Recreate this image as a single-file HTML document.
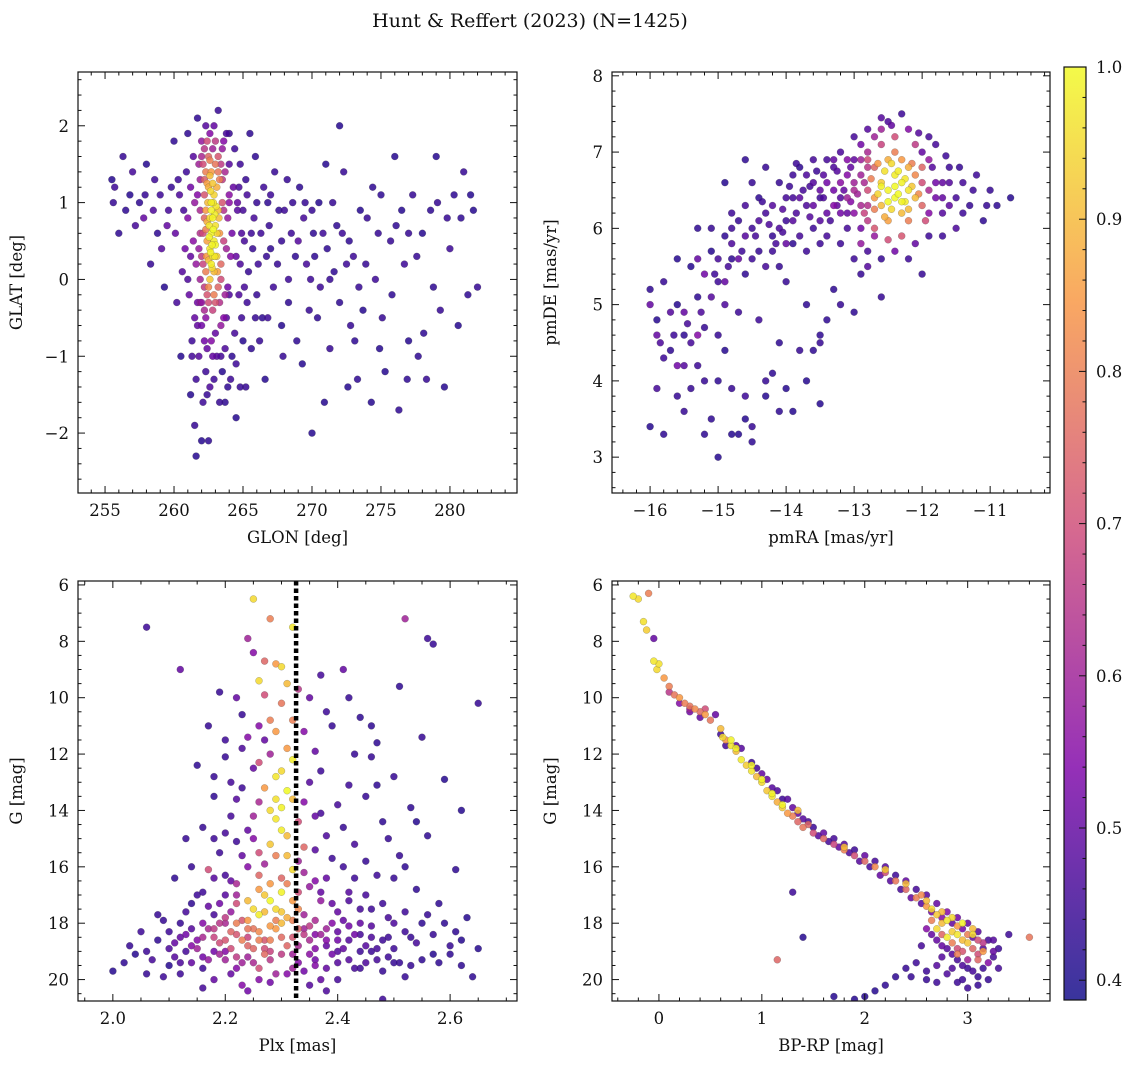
<!DOCTYPE html>
<html><head><meta charset="utf-8">
<style>
html,body{margin:0;padding:0;background:#fff;}
svg text{font-family:"DejaVu Serif","Liberation Serif",serif;fill:#111;}
</style></head>
<body>
<svg id="fig" width="1136" height="1067" viewBox="0 0 1136 1067" xmlns="http://www.w3.org/2000/svg">
<text x="530" y="27" font-size="19" text-anchor="middle">Hunt &amp; Reffert (2023) (N=1425)</text>
</svg>
<script>
// ---- data: [x, y, membership probability] ----
const glonGlat = [
[255.5,1.3,.42],[255.7,1.2,.45],[256,0.6,.43],[256.3,1.6,.44],[256.8,1.1,.42],[257,1.4,.46],[257.5,1.0,.43],[257.8,0.8,.5],[258,1.5,.42],[258.3,0.2,.44],[258.5,0.9,.47],[258.8,0.6,.43],[259,1.1,.45],[259.3,-0.1,.42],[259.5,0.7,.5],[259.8,1.2,.44],[260,1.8,.43],[260.2,-0.3,.46],[260.5,-1.0,.42],[260.8,0.4,.52],[261,1.9,.43],[261.2,-1.5,.42],[261.5,-1.9,.44],[261.6,-2.3,.42],[261.3,-0.8,.45],[261.7,2.1,.43],[262,-2.1,.42],[262.3,-1.2,.45],[262.5,-2.1,.43],[263.2,2.2,.44],[263.5,-1.2,.42],[263.8,-0.5,.48],[264,1.9,.44],[264.2,-1.0,.43],[264.5,0.3,.5],[264.8,1.5,.45],[265,-0.8,.42],[265.2,-1.4,.44],[265.5,1.9,.43],[265.8,0.8,.46],[266,-0.2,.44],[266.5,1.2,.45],[267,0.4,.43],[267.3,1.4,.44],[267.8,-0.6,.42],[268,0.9,.45],[268.3,-0.3,.43],[268.6,1.0,.44],[269,0.5,.48],[269.3,-1.1,.42],[269.6,0.2,.46],[270,-2.0,.42],[270,0.9,.44],[270.4,-0.5,.43],[270.8,0.6,.45],[271,1.5,.42],[271.3,-0.9,.44],[271.6,0.1,.43],[272,2.0,.42],[272.3,1.4,.44],[272.6,-1.4,.42],[273,0.3,.45],[273.3,-1.3,.43],[273.7,-0.4,.42],[274,0.8,.44],[274.3,-1.6,.42],[274.6,0.0,.45],[275,1.1,.43],[275.3,-1.2,.42],[275.7,0.5,.44],[276,1.6,.42],[276.3,-1.7,.43],[276.7,0.2,.45],[277,-0.8,.42],[277.3,1.1,.44],[277.7,-1.0,.43],[278,0.6,.42],[278.3,-1.3,.44],[278.6,0.9,.43],[279,1.6,.42],[279.3,-0.4,.44],[279.6,-1.4,.42],[280,0.4,.45],[280.3,1.1,.43],[280.6,-0.6,.42],[281,1.4,.44],[281.3,-0.2,.43],[281.7,0.9,.42],[282,-0.1,.44],[262.9,-1.3,.45],[263.9,-1.4,.43],[264.5,-1.8,.42],[266.2,-0.8,.44],[263,-0.7,.5],[262,-0.6,.52],
[264.3,1.2,.5],[264.6,0.9,.48],[265.1,0.5,.46],[265.4,0.1,.44],[266.3,0.6,.45],[266.8,1.0,.43],[267.5,0.2,.44],[268.8,0.3,.43],[269.9,0.0,.45],[270.5,1.0,.42],[271.8,0.7,.43],[272.5,0.2,.45],[273.5,0.9,.42],[274.8,0.6,.44],[275.8,-0.2,.43],[276.5,0.9,.42],[277.6,0.3,.44],[278.8,-0.1,.43],[264.0,-0.2,.47],[264.9,-0.5,.45],[265.6,-0.9,.43],[266.6,-1.3,.42],[267.9,-1.0,.44],[268.9,-0.8,.43],[270.9,-1.6,.42],[272.8,-0.6,.44],[274.9,-0.9,.42],[276.9,-1.3,.43],[279.8,0.8,.44],
[255.6,1.0,.44],[256.5,0.9,.43],[257.2,0.7,.46],[257.9,1.1,.44],[258.6,1.3,.45],[259.1,0.4,.48],[259.6,0.9,.46],[260.1,0.6,.5],[260.4,1.1,.47],[260.6,0.1,.48],[260.9,1.4,.45],[261.0,0.8,.55],[261.1,-0.2,.5],[261.2,1.2,.52],[261.4,0.5,.56],[261.5,-0.5,.5],[261.4,1.6,.48],[261.6,0.2,.58],[261.5,1.0,.58],[261.7,-0.3,.52],[261.3,-1.0,.46],[261.8,-1.0,.48],[261.6,-1.3,.45],[262.1,-1.6,.45],[262.4,-0.9,.5],[262.7,-0.8,.55],[262.6,-1.4,.47],[263.1,-1.0,.48],[263.3,-1.6,.44],[263.7,-0.9,.47],[264.1,-1.3,.45],[264.4,-0.7,.46],[263.9,-0.1,.52],[264.2,0.6,.52],[264.0,1.5,.48],[263.8,1.9,.46],[262.9,2.0,.5],[262.3,2.0,.48],[262.6,1.9,.55],[264.4,1.7,.45],[264.7,1.2,.46],[264.8,0.2,.47],[265.0,0.9,.46],[265.2,1.3,.44],[265.3,-0.3,.45],[265.7,0.4,.44],[265.9,1.6,.43],[266.1,0.2,.45],[266.4,-0.5,.43],[266.9,0.7,.44],[267.2,-0.1,.45],[267.6,0.9,.43],[268.2,1.3,.44],[268.5,0.6,.45],[269.1,1.2,.43],[269.4,0.8,.46],[269.8,-0.4,.44],[270.2,0.3,.43],[270.6,-0.1,.45],[271.1,0.4,.43],[271.5,1.0,.44],[272.0,-0.3,.43],[272.2,0.6,.45],[273.1,-0.8,.43],[273.9,0.2,.44],[274.4,1.2,.43],[275.1,-0.5,.44],[276.1,0.7,.43],[277.0,0.6,.44],[278.1,-0.7,.43],[279.1,1.0,.44],[280.8,0.8,.43],[281.5,1.1,.42],[263.4,0.0,.7],[263.6,0.9,.64],[263.5,1.3,.66],[263.8,0.4,.6],[264.0,1.0,.56],[261.9,0.6,.64],[261.8,1.5,.6],[261.9,-0.3,.58],[262.0,1.8,.58],[262.2,-0.4,.62],[263.0,-0.3,.72],[263.4,-0.6,.58],[263.6,1.8,.55],[262.0,0.3,.66],[262.2,0.8,.75],[262.2,1.7,.65],[263.2,1.6,.72],[262.4,1.8,.7],[263.0,1.8,.66],
[264.6,1.0,.5],[264.9,0.6,.47],[265.3,1.1,.46],[265.6,0.6,.45],[266.0,1.0,.44],[264.7,-0.2,.47],[265.1,-0.1,.46],[264.5,-1.1,.45],[263.4,-1.0,.46],[262.8,-1.0,.5],[262.2,-0.8,.52],[261.7,-0.6,.5],[261.2,0.3,.5],[261.0,0.0,.47],[260.7,0.9,.46],[260.3,1.3,.45],[266.7,0.3,.44],[267.0,1.1,.45],[267.8,0.5,.44],[268.3,0.0,.45],[269.5,1.0,.44],[270.1,0.6,.43],[271.3,0.0,.44],[272.7,0.5,.43],[273.4,-0.1,.44],[265.9,-0.5,.44],[266.8,-0.5,.45],[264.8,-1.4,.44],[263.7,-1.6,.43],[262.4,-1.5,.44]
,
[261.9,1.3,.6],[261.9,0.9,.62],[261.8,0.4,.58],[261.9,0.0,.6],[262.0,-0.3,.58],[262.1,1.5,.7],[262.2,1.1,.72],[262.1,0.6,.7],[262.1,0.2,.68],[262.2,-0.1,.66],[262.3,1.4,.8],[262.3,0.9,.85],[262.4,0.5,.86],[262.3,0.1,.8],[262.5,1.6,.75],[262.5,1.2,.88],[262.6,0.8,.95],[262.6,0.4,.97],[262.6,0.0,.92],[262.5,-0.3,.7],[262.7,1.0,.98],[262.7,0.6,.99],[262.8,0.3,.97],[262.7,1.4,.85],[262.8,0.8,.99],[262.9,1.1,.94],[262.9,0.5,.98],[262.9,0.1,.9],[263.0,1.5,.78],[263.0,0.7,.96],[263.1,1.2,.88],[263.1,0.3,.93],[263.2,0.9,.9],[263.2,-0.1,.75],[263.3,1.3,.8],[263.3,0.6,.85],[263.4,0.2,.76],[263.5,1.0,.72],[263.6,0.5,.68],[263.7,1.4,.62],[263.7,-0.2,.6],[263.9,0.8,.58],[262.4,-0.2,.72],[262.8,-0.4,.68],[263.3,-0.3,.64],[262.2,1.3,.74],[262.6,1.35,.9],[262.4,0.75,.88],[262.5,0.25,.9],[262.75,0.15,.95],[263.0,0.45,.99],[263.05,0.95,.97],[262.55,0.55,.99],[262.85,0.65,1.0],[262.65,0.35,.99],[262.95,0.85,.98],[262.7,0.9,.99],[263.4,1.5,.66],[262.0,1.6,.62],[261.7,1.1,.55],[264.1,0.3,.55],[264.0,1.1,.56],[262.3,-0.5,.56],[263.6,-0.5,.55],[262.8,1.7,.6],[263.5,1.7,.58],
[262.45,1.0,.9],[262.55,0.7,.97],[262.65,1.15,.95],[262.75,0.45,.99],[262.85,1.0,.97],[262.95,0.3,.97],[263.1,0.6,.94],[263.15,0.1,.86],[262.35,0.3,.85],[262.4,1.25,.86],[262.8,1.25,.92],[263.2,1.4,.78],[262.5,-0.1,.82],[262.9,-0.2,.8],[263.25,0.8,.9],[262.3,0.65,.8],[262.7,0.2,.98],[262.6,1.55,.8]
];
const pmraPmde = [
[-16,3.4,.42],[-15.8,3.3,.43],[-15.9,4.8,.42],[-15.8,5.3,.44],[-15.7,4.4,.43],[-15.6,5.0,.42],[-15.5,3.6,.44],[-15.5,4.6,.43],[-15.4,5.5,.42],[-15.3,4.2,.45],[-15.3,5.1,.43],[-15.2,4.7,.44],[-15.1,5.7,.42],[-15.1,3.5,.43],[-15.0,3.0,.42],[-15.0,5.3,.45],[-14.9,5.9,.43],[-14.9,4.4,.42],[-14.8,3.9,.44],[-14.8,5.6,.43],[-14.7,3.3,.42],[-14.7,6.1,.44],[-14.6,5.4,.43],[-14.6,3.5,.42],[-14.5,6.0,.45],[-14.5,3.2,.43],[-14.4,5.7,.44],[-14.4,6.4,.43],[-14.3,3.8,.42],[-14.3,6.2,.46],[-14.2,5.9,.44],[-14.2,4.1,.43],[-14.1,6.6,.44],[-14.0,6.1,.45],[-14.0,3.9,.42],[-13.9,6.4,.46],[-13.9,5.8,.43],[-13.8,4.4,.44],[-13.8,6.8,.43],[-13.7,6.3,.47],[-13.7,4.0,.42],[-13.6,6.0,.45],[-13.6,6.6,.48],[-13.5,4.6,.43],[-13.5,3.7,.42],[-13.4,6.9,.46],[-13.4,6.2,.5],[-13.3,5.2,.43],[-13.3,6.5,.52],[-13.2,7.0,.47],[-13.2,5.8,.45],[-13.1,6.7,.55],[-13.1,6.2,.5],[-13.0,4.9,.43],[-13.0,7.2,.46],[-12.9,5.4,.44],[-12.9,6.0,.52],[-12.8,7.3,.48],[-12.8,5.7,.46],[-11.9,5.9,.45],[-11.8,7.1,.46],[-11.7,6.2,.48],[-11.6,6.8,.45],[-11.5,6.0,.47],[-11.4,6.6,.46],[-11.3,6.3,.44],[-11.2,6.7,.45],[-11.1,6.1,.43],[-11.0,6.5,.44],[-10.9,6.3,.43],[-10.7,6.4,.42],[-12.3,7.5,.45],[-12.5,7.4,.47],[-12.2,5.6,.45],[-12.6,5.6,.44],[-14.6,6.9,.43],[-14.9,6.6,.42],[-15.3,6.0,.43],[-15.6,5.6,.42],[-16,5.2,.43],[-15.2,4.0,.44],[-14.1,4.5,.43],[-13.9,3.6,.42],[-12.6,5.1,.44],[-13.7,5.0,.43],[-14.4,4.8,.45],[-14.0,5.3,.44],
[-15.9,4.6,.5],[-15.8,4.3,.45],[-15.7,4.9,.48],[-15.6,4.2,.52],[-15.5,4.9,.5],[-15.5,4.2,.48],[-15.4,4.5,.46],[-15.4,3.9,.44],[-15.3,4.6,.55],[-15.3,5.6,.5],[-15.2,5.4,.52],[-15.1,5.1,.48],[-15.0,5.6,.46],[-14.9,5.3,.5],[-14.8,5.8,.47],[-14.8,6.0,.45],[-14.7,5.6,.5],[-14.6,6.3,.46],[-14.6,5.9,.48],[-14.5,5.6,.45],[-14.5,6.6,.44],[-14.4,6.1,.47],[-14.3,5.5,.46],[-14.3,6.8,.44],[-14.2,6.3,.48],[-14.2,5.7,.45],[-14.1,6.0,.47],[-14.1,5.5,.44],[-14.0,6.4,.46],[-14.0,5.8,.5],[-13.9,6.1,.48],[-13.9,6.7,.45],[-13.8,5.9,.46],[-13.8,6.4,.49],[-13.7,6.7,.47],[-13.7,5.7,.45],[-13.6,6.3,.5],[-13.6,6.9,.46],[-13.5,6.1,.48],[-13.5,6.5,.5],[-13.5,5.8,.45],[-13.4,6.6,.52],[-13.4,5.9,.46],[-13.3,6.3,.55],[-13.3,6.9,.5],[-13.2,6.6,.56],[-13.2,6.2,.52],[-13.1,6.4,.6],[-13.1,6.9,.55],[-13.0,6.2,.56],[-13.0,6.5,.62],[-12.9,6.7,.6],[-12.9,7.1,.52],[-12.8,6.3,.64],[-12.8,6.8,.65],[-12.7,7.2,.6],[-12.7,5.9,.58],[-12.2,7.3,.55],[-12.0,7.0,.5],[-11.9,6.2,.55],[-11.8,6.6,.52],[-11.7,6.4,.5],[-11.6,6.6,.48],[-11.5,6.4,.46],[-11.4,6.2,.45],[-11.9,7.2,.46],[-11.7,5.9,.45],[-12.1,5.8,.5],[-12.4,5.7,.52],[-12.8,5.5,.48],[-13.0,5.6,.45],[-12.6,7.45,.48],[-12.0,5.4,.44],[-14.8,6.2,.45],[-15.1,6.0,.44],[-14.9,5.0,.47],[-14.7,4.9,.45],[-15.0,4.6,.44],[-15.9,3.9,.46],[-15.6,3.8,.44],[-15.0,4.0,.43],[-14.6,3.8,.45],[-14.3,4.0,.44],[-13.6,4.4,.43],[-13.5,4.5,.44],[-13.4,4.8,.43],[-13.2,5.0,.44],[-14.1,3.6,.43],[-14.5,3.4,.44],[-14.8,3.3,.42],[-15.2,3.3,.43],[-16.0,5.0,.5],
[-14.35,6.35,.45],[-14.25,6.05,.47],[-14.15,5.8,.46],[-14.05,6.25,.48],[-13.95,6.55,.45],[-13.85,6.2,.47],[-13.75,6.5,.46],[-13.65,6.15,.48],[-13.55,6.75,.45],[-13.45,6.4,.47],[-13.35,6.1,.46],[-13.25,6.75,.48],[-13.15,6.5,.5],[-13.05,6.35,.55],[-13.05,6.8,.5],[-12.95,6.45,.6],[-12.85,6.6,.62],[-13.25,6.3,.5],[-13.45,6.7,.48],[-13.65,6.55,.46],[-13.85,6.85,.45],[-14.05,5.95,.46],[-14.45,5.9,.46],[-14.65,5.7,.45],[-14.85,5.5,.46],[-15.05,5.4,.45],[-15.25,4.9,.47],[-15.45,4.75,.46],[-15.65,4.6,.45],[-15.85,4.5,.47],[-11.85,6.8,.48],[-11.65,6.95,.45],[-11.45,6.8,.44],[-11.25,6.5,.45],[-11.05,6.3,.44],[-12.05,7.25,.48],[-12.45,7.35,.5],
[-13.0,6.6,.6],[-12.9,6.3,.62],[-12.9,6.9,.6],[-12.8,6.5,.7],[-12.8,6.1,.66],[-12.7,6.8,.75],[-12.7,6.4,.85],[-12.7,6.0,.72],[-12.6,7.1,.68],[-12.6,6.6,.93],[-12.6,6.3,.9],[-12.5,6.9,.88],[-12.5,6.5,.99],[-12.5,6.1,.86],[-12.4,6.7,.98],[-12.4,6.4,1.0],[-12.4,7.0,.8],[-12.3,6.6,.99],[-12.3,6.2,.9],[-12.3,6.9,.85],[-12.2,6.5,.97],[-12.2,6.8,.88],[-12.2,6.1,.8],[-12.1,6.4,.9],[-12.1,6.7,.82],[-12.0,6.3,.75],[-12.0,6.6,.7],[-11.9,6.5,.62],[-12.55,6.75,.96],[-12.45,6.25,.95],[-12.35,6.45,1.0],[-12.65,6.45,.94],[-12.25,6.35,.98],[-12.15,6.55,.92],[-12.5,5.85,.7],[-12.3,5.9,.72],[-12.8,7.0,.62],[-12.1,7.1,.66],[-12.6,7.3,.6],[-11.9,6.9,.58],[-12.9,5.8,.58],[-12.4,7.2,.7],
[-12.75,6.65,.8],[-12.65,6.85,.85],[-12.55,6.15,.88],[-12.45,6.85,.95],[-12.35,6.75,.98],[-12.25,6.65,.97],[-12.15,6.85,.8],[-12.05,6.45,.82],[-12.6,6.55,.99],[-12.5,6.35,1.0],[-12.4,6.55,1.0],[-12.3,6.35,.99],[-12.2,6.25,.9],[-12.7,6.25,.8],[-12.8,6.9,.7],[-11.95,6.1,.7],[-12.0,6.8,.75],[-12.85,6.2,.68],
[-13.2,6.4,.48],[-13.1,6.0,.46],[-13.3,6.8,.47],[-13.5,6.4,.45],[-13.0,6.9,.5],[-11.8,6.4,.52],[-11.7,6.6,.5],[-11.6,6.3,.49]
];
const plxG = [
[2.0,19.7,.42],[2.02,19.4,.43],[2.04,19.1,.42],[2.06,7.5,.45],[2.06,19.8,.44],[2.08,18.6,.43],[2.1,18.3,.45],[2.1,19.5,.42],[2.12,9.0,.5],[2.12,18.0,.44],[2.13,19.0,.46],[2.14,17.3,.43],[2.15,18.6,.55],[2.16,14.6,.44],[2.16,19.6,.45],[2.17,16.1,.7],[2.17,18.2,.62],[2.18,13.5,.43],[2.18,17.7,.46],[2.19,15.5,.45],[2.19,19.1,.6],[2.2,12.1,.44],[2.2,18.6,.72],[2.2,17.0,.48],[2.21,14.2,.46],[2.21,19.8,.5],[2.22,16.6,.62],[2.22,18.0,.8],[2.23,13.2,.45],[2.23,10.6,.44],[2.23,20.2,.55],[2.24,7.9,.6],[2.24,17.2,.9],[2.24,18.5,.68],[2.25,6.5,.95],[2.25,15.0,.55],[2.25,12.5,.5],[2.25,19.4,.62],[2.26,9.4,.95],[2.26,16.3,.75],[2.26,17.7,.98],[2.26,13.7,.62],[2.27,8.7,.75],[2.27,18.9,.7],[2.27,11.5,.5],[2.28,14.0,.95],[2.28,17.2,1.0],[2.28,7.2,.8],[2.28,20.1,.52],[2.29,15.6,.8],[2.29,12.8,.97],[2.29,18.2,.85],[2.3,10.2,.78],[2.3,16.9,.99],[2.3,14.7,.98],[2.3,8.9,.95],[2.31,13.3,1.0],[2.31,18.8,.75],[2.31,11.8,.85],[2.32,16.1,.95],[2.32,7.5,.97],[2.32,12.2,.98],[2.32,19.6,.6],[2.33,9.7,.65],[2.33,17.5,.82],[2.33,14.4,.7],[2.34,15.3,.75],[2.34,18.4,.66],[2.34,11.2,.55],[2.35,10.0,.5],[2.35,13.0,.48],[2.35,19.1,.56],[2.36,16.5,.55],[2.36,17.9,.62],[2.37,12.6,.45],[2.37,20.0,.5],[2.38,14.9,.47],[2.38,18.6,.55],[2.39,11.0,.44],[2.39,17.3,.5],[2.4,13.8,.46],[2.4,19.4,.48],[2.41,16.0,.45],[2.41,9.0,.5],[2.42,18.1,.52],[2.43,12.0,.44],[2.43,15.2,.46],[2.44,19.0,.45],[2.44,10.7,.43],[2.45,17.0,.46],[2.45,13.5,.44],[2.46,18.5,.47],[2.47,11.6,.43],[2.47,16.3,.45],[2.48,19.7,.44],[2.48,14.4,.43],[2.49,17.8,.46],[2.5,12.8,.44],[2.5,18.9,.45],[2.51,9.6,.43],[2.51,15.6,.44],[2.52,7.2,.6],[2.52,18.3,.45],[2.53,13.9,.43],[2.53,19.5,.44],[2.54,16.8,.43],[2.55,11.4,.44],[2.55,18.0,.43],[2.56,7.9,.45],[2.56,14.9,.43],[2.57,19.1,.42],[2.57,8.1,.44],[2.58,17.3,.43],[2.59,12.9,.42],[2.6,18.8,.44],[2.61,16.1,.43],[2.62,14.0,.42],[2.62,19.5,.43],[2.63,17.8,.42],[2.64,19.9,.43],[2.65,10.2,.44],[2.65,18.9,.42],
[2.08,17.7,.44],[2.11,16.4,.43],[2.13,15.0,.44],[2.14,18.2,.48],[2.15,12.4,.43],[2.17,11.0,.44],[2.18,19.0,.52],[2.19,9.8,.44],[2.2,16.3,.46],[2.21,17.6,.58],[2.22,15.1,.45],[2.22,19.2,.66],[2.23,11.8,.47],[2.23,17.9,.72],[2.24,14.7,.5],[2.24,20.4,.52],[2.25,18.2,.78],[2.26,11.0,.55],[2.26,19.6,.7],[2.27,15.9,.6],[2.27,17.0,.92],[2.28,12.0,.6],[2.28,18.6,.8],[2.29,19.8,.6],[2.29,13.6,.96],[2.3,18.0,.9],[2.31,17.8,.88],[2.31,15.6,.9],[2.32,18.5,.72],[2.33,16.9,.7],[2.34,19.7,.52],[2.35,18.1,.66],[2.36,14.2,.5],[2.36,19.5,.55],[2.37,17.2,.58],[2.38,18.2,.6],[2.39,19.1,.52],[2.4,17.6,.5],[2.41,18.9,.5],[2.42,16.9,.48],[2.43,19.6,.46],[2.44,18.0,.5],[2.45,18.8,.48],[2.46,17.5,.45],[2.47,19.3,.46],[2.49,18.5,.45],[2.5,16.4,.44],[2.52,19.9,.44],[2.54,18.7,.46],[2.56,17.7,.44],[2.58,19.4,.43],[2.61,18.3,.43],[2.12,19.8,.45],[2.16,20.3,.46],[2.19,18.0,.65],[2.21,18.9,.7],[2.24,18.8,.75],[2.27,19.1,.76],[2.29,17.5,.95],[2.33,18.2,.75],[2.35,16.7,.58],[2.38,20.4,.47],[2.48,20.7,.45],[2.42,13.1,.45],[2.46,12.1,.44],[2.38,10.5,.45],[2.21,13.0,.46],
[2.03,18.8,.44],[2.05,18.3,.45],[2.07,19.3,.46],[2.09,17.9,.44],[2.09,19.9,.45],[2.11,18.7,.5],[2.11,19.2,.48],[2.13,18.4,.52],[2.13,17.6,.46],[2.14,19.4,.5],[2.15,17.0,.45],[2.15,18.9,.6],[2.16,18.0,.55],[2.17,19.3,.58],[2.17,17.4,.5],[2.18,18.5,.68],[2.18,20.0,.5],[2.19,17.3,.52],[2.19,18.7,.7],[2.2,19.3,.6],[2.2,17.8,.66],[2.21,18.3,.75],[2.21,16.5,.5],[2.22,19.6,.55],[2.22,17.3,.7],[2.23,18.6,.8],[2.23,19.4,.6],[2.24,16.0,.55],[2.24,17.9,.85],[2.25,17.5,.95],[2.25,18.9,.75],[2.26,18.3,.82],[2.26,20.0,.55],[2.27,17.6,.9],[2.27,18.6,.72],[2.28,16.6,.85],[2.28,19.3,.65],[2.29,17.9,.8],[2.3,19.1,.66],[2.3,18.5,.76],[2.31,16.6,.8],[2.31,19.8,.55],[2.32,17.2,.85],[2.33,18.8,.62],[2.33,19.4,.55],[2.34,17.7,.6],[2.35,18.6,.62],[2.35,20.2,.48],[2.36,18.9,.55],[2.37,18.4,.6],[2.37,16.9,.5],[2.38,19.6,.5],[2.39,18.0,.55],[2.4,18.6,.52],[2.4,20.0,.46],[2.41,17.9,.5],[2.42,19.3,.48],[2.43,18.4,.52],[2.44,17.5,.46],[2.45,19.4,.47],[2.46,18.1,.48],[2.47,18.9,.46],[2.48,17.3,.45],[2.49,19.2,.45],[2.5,18.0,.47],[2.51,19.4,.44],[2.52,17.6,.45],[2.53,18.5,.44],[2.55,19.3,.43],[2.57,18.4,.44],[2.59,18.0,.43],[2.6,19.1,.43],[2.62,18.6,.42],[2.14,16.0,.44],[2.16,16.9,.45],[2.18,15.0,.45],[2.2,14.8,.46],[2.22,13.6,.48],[2.23,15.6,.5],[2.25,14.2,.6],[2.26,15.5,.7],[2.27,13.2,.85],[2.28,15.2,.92],[2.29,14.3,.97],[2.3,13.9,.99],[2.31,14.9,.9],[2.32,13.6,.9],[2.33,15.8,.6],[2.34,13.7,.55],[2.36,15.4,.48],[2.37,14.1,.46],[2.39,15.7,.45],[2.41,14.6,.44],[2.43,16.4,.45],[2.45,15.8,.44],[2.47,13.1,.43],[2.49,15.0,.44],[2.52,16.0,.43],[2.54,14.4,.42],[2.3,12.6,.95],[2.29,11.2,.85],[2.28,10.8,.8],[2.27,9.9,.7],[2.32,10.8,.8],[2.31,9.5,.9],[2.29,8.8,.85],[2.26,12.3,.7],[2.24,11.4,.55],[2.22,10.0,.5],[2.25,8.4,.55],[2.36,11.9,.5],[2.37,9.2,.46],[2.42,10.0,.44],[2.46,11.0,.43],[2.2,11.5,.45],[2.18,12.8,.44],
[2.1,18.9,.47],[2.12,18.5,.5],[2.14,18.8,.55],[2.16,18.5,.62],[2.18,18.2,.66],[2.2,18.0,.62],[2.22,18.4,.72],[2.24,18.2,.78],[2.26,18.6,.8],[2.28,18.1,.85],[2.3,17.6,.92],[2.32,17.9,.8],[2.34,18.2,.6],[2.36,18.4,.55],[2.38,18.8,.5],[2.4,18.3,.5],[2.42,18.6,.48],[2.44,18.4,.46],[2.46,19.0,.45],[2.48,18.6,.45],[2.5,19.4,.44],[2.2,19.0,.55],[2.24,19.2,.6],[2.28,19.0,.68],[2.32,19.1,.6],[2.36,19.3,.52],[2.4,19.0,.48],[2.44,19.6,.45],[2.16,19.2,.52],[2.12,19.4,.47],[2.06,19.0,.45],[2.3,16.4,.75],[2.26,16.8,.85],[2.22,17.0,.6],[2.34,16.2,.6],[2.38,16.4,.5],[2.42,17.2,.47],[2.18,16.4,.48]
];
const bprpG = [
[-0.25,6.4,.97],[-0.2,6.5,.95],[-0.15,7.3,.96],[-0.12,7.6,.93],[-0.1,6.3,.8],[-0.05,7.9,.5],[-0.05,8.7,.97],[-0.02,9.0,.95],[0.0,8.8,.96],[0.05,9.3,.85],[0.1,9.6,.8],[0.15,9.9,.78],[0.2,10.0,.85],[0.25,10.2,.8],[0.3,10.3,.78],[0.35,10.4,.82],[0.4,10.5,.76],[0.45,10.6,.85],[0.5,10.8,.78],[0.55,10.6,.5],[0.6,11.1,.9],[0.62,11.4,.95],[0.65,11.5,.85],[0.7,11.7,.97],[0.75,11.9,.9],[0.8,12.2,.98],[0.85,12.4,.93],[0.9,12.6,.97],[0.95,12.8,.9],[1.0,13.0,.95],[1.05,13.3,.92],[1.1,13.5,.97],[1.15,13.7,.88],[1.2,13.9,.93],[1.25,14.1,.85],[1.3,14.2,.8],[1.35,14.4,.75],[1.4,14.6,.78],[1.5,14.8,.7],[1.6,15.0,.75],[1.7,15.2,.68],[1.8,15.4,.8],[1.9,15.6,.7],[2.0,15.8,.75],[2.1,16.0,.82],[2.2,16.2,.7],[2.3,16.5,.78],[2.4,16.8,.75],[2.5,17.1,.8],[2.6,17.4,.85],[2.7,17.7,.92],[2.75,18.0,.9],[2.8,17.9,.97],[2.85,18.3,.93],[2.9,18.1,.85],[2.95,18.6,.9],[3.0,18.4,.8],[3.05,18.9,.75],[3.1,19.1,.7],[3.15,18.7,.65],[3.2,19.4,.55],[3.25,19.0,.5],
[0.6,11.3,.45],[0.75,11.7,.48],[0.9,12.3,.45],[1.0,12.7,.5],[1.1,13.2,.48],[1.2,13.6,.45],[1.3,13.9,.5],[1.3,16.9,.45],[1.4,14.3,.48],[1.5,14.6,.45],[1.6,14.8,.5],[1.7,15.0,.46],[1.8,15.2,.48],[1.9,15.4,.45],[2.0,15.6,.5],[2.1,15.8,.46],[2.2,16.0,.48],[2.3,16.3,.45],[2.4,16.5,.5],[2.5,16.8,.46],[2.6,17.0,.48],[2.7,17.3,.5],[2.8,17.6,.55],[2.9,17.8,.52],[3.0,18.0,.5],[3.1,18.3,.48],[3.2,18.6,.46],[3.3,18.9,.45],[2.6,18.2,.55],[2.7,18.6,.5],[2.8,18.9,.48],[2.9,19.3,.46],[3.0,19.6,.45],[3.1,19.9,.44],[2.8,19.8,.47],[2.9,20.1,.45],[3.2,20.0,.44],[2.7,19.5,.48],[2.5,19.4,.45],[2.4,19.6,.44],[2.3,19.9,.43],[2.2,20.2,.43],[2.1,20.4,.42],[2.0,20.6,.42],[1.9,20.7,.42],[2.6,20.0,.44],[3.3,19.6,.46],[3.4,18.4,.45],[1.4,18.5,.42],[3.0,20.3,.45],[1.7,20.6,.42],
[0.65,11.7,.46],[0.8,11.8,.48],[0.95,12.5,.46],[1.05,12.9,.5],[1.15,13.3,.47],[1.25,13.6,.48],[1.35,14.1,.5],[1.45,14.4,.46],[1.55,14.9,.48],[1.65,15.1,.46],[1.75,15.3,.5],[1.85,15.5,.47],[1.95,15.8,.48],[2.05,16.0,.46],[2.15,16.3,.5],[2.25,16.5,.48],[2.35,16.8,.46],[2.45,17.1,.5],[2.55,17.3,.48],[2.65,17.6,.52],[2.75,17.8,.55],[2.85,18.0,.5],[2.95,18.2,.52],[3.05,18.5,.5],[3.15,18.9,.48],[3.25,19.2,.46],[2.65,18.4,.5],[2.75,18.8,.5],[2.85,19.1,.48],[2.95,19.5,.47],[3.05,19.7,.46],[2.75,19.2,.48],[2.85,19.6,.47],[3.15,19.6,.45],[3.25,18.6,.48],[2.55,18.8,.46],[2.45,19.9,.44],[2.6,19.7,.45],[2.95,20.0,.45],[3.1,20.2,.44],[2.7,20.1,.45],[0.4,10.7,.5],[0.3,10.5,.52],[0.2,10.2,.55],
[1.15,19.3,.75],[3.6,18.5,.78],[2.75,18.4,.75],[2.85,18.7,.8],[2.95,19.0,.72],[3.05,18.2,.9],[2.65,17.9,.8],[2.9,18.9,.7],[3.0,19.3,.6],[3.1,18.6,.7],[0.1,9.8,.65],[0.3,10.4,.6],[0.45,10.4,.7],[1.35,14.0,.9],[1.45,14.5,.75],
[2.7,18.2,.95],[2.8,18.5,.98],[2.9,18.4,.97],[3.0,18.7,.92],[2.85,17.8,.95],[2.95,18.0,.99],[3.05,18.4,.95],[2.75,17.6,.9],[2.6,17.2,.9],[2.65,17.5,.95],[2.55,17.0,.82],[2.4,16.6,.9],[2.2,16.1,.92],[1.8,15.3,.9],[1.2,13.8,.99],[1.0,12.9,.99],[0.9,12.4,.99],[0.7,11.5,.99],[0.75,11.8,.99],[1.1,13.4,.99],[3.15,19.0,.85],[2.9,19.1,.8],[3.1,19.3,.75]
];
const cbTicks = [0.4,0.5,0.6,0.7,0.8,0.9,1.0];

const svg = document.getElementById('fig');
const NS = 'http://www.w3.org/2000/svg';
function mk(tag, attrs, parent){const e=document.createElementNS(NS,tag);for(const k in attrs)e.setAttribute(k,attrs[k]);(parent||svg).appendChild(e);return e;}
const PMIN=0.387, PMAX=1.0;
const stops=[[0,[13,8,135]],[0.25,[126,3,168]],[0.5,[204,71,120]],[0.75,[248,149,64]],[1,[240,249,33]]];
function plasma(t){t=Math.max(0,Math.min(1,t));for(let i=1;i<stops.length;i++){if(t<=stops[i][0]){const a=stops[i-1],b=stops[i];const f=(t-a[0])/(b[0]-a[0]);const c=a[1].map((v,j)=>Math.round(v+(b[1][j]-v)*f));return `rgb(${c.join(',')})`;}}return 'rgb(240,249,33)';}
function col(p){return plasma((p-PMIN)/(PMAX-PMIN));}
function fmt(v){const s=(Math.abs(v)<1e-9?0:v);return (s<0?'\u2212':'')+(+Math.abs(s).toFixed(2)).toString();}

function panel(cfg){
  const {name,L,T,R,B,x0,x1,y0,y1,xMaj,xMin,yMaj,yMin,xLabel,yLabel,data,xDec}=cfg;
  const sx=v=>L+(v-x0)/(x1-x0)*(R-L);
  const sy=v=>T+(v-y0)/(y1-y0)*(B-T);
  const g=mk('g',{});
  
  
  const cid='clip-'+name;
  const cp=mk('clipPath',{id:cid},g);mk('rect',{x:L,y:T,width:R-L,height:B-T},cp);
  const pts=mk('g',{'clip-path':`url(#${cid})`},g);
  
  
  data.slice().sort((a,b)=>a[2]-b[2]).forEach(d=>{
    const c=mk('circle',{cx:sx(d[0]).toFixed(1),cy:sy(d[1]).toFixed(1),r:3.5,fill:col(d[2]),'fill-opacity':0.85,stroke:'#444','stroke-width':0.35,'stroke-opacity':0.6},pts);
    
    
  });
  if(cfg.extra)cfg.extra(g,sx,sy);
  const fr=mk('rect',{x:L,y:T,width:R-L,height:B-T,fill:'none',stroke:'#111','stroke-width':1.2},g);
  
  
  const lo=Math.min(x0,x1),hi=Math.max(x0,x1);
  for(let v=Math.ceil(lo/xMin-1e-6)*xMin; v<=hi+1e-9; v+=xMin){
    const x=sx(v);const maj=Math.abs(v/xMaj-Math.round(v/xMaj))<1e-6;const l=maj?7:3.5;
    mk('line',{x1:x,y1:B,x2:x,y2:B-l,stroke:'#111'},g);mk('line',{x1:x,y1:T,x2:x,y2:T+l,stroke:'#111'},g);
    if(maj){const t=mk('text',{x:x,y:B+23,'font-size':16.5,'text-anchor':'middle'},g);t.textContent=xDec?(v<0?'\u2212':'')+Math.abs(v).toFixed(xDec):fmt(Math.round(v/xMaj)*xMaj);
      }
  }
  const ylo=Math.min(y0,y1),yhi=Math.max(y0,y1);
  for(let v=Math.ceil(ylo/yMin-1e-6)*yMin; v<=yhi+1e-9; v+=yMin){
    const y=sy(v);const maj=Math.abs(v/yMaj-Math.round(v/yMaj))<1e-6;const l=maj?7:3.5;
    mk('line',{x1:L,y1:y,x2:L+l,y2:y,stroke:'#111'},g);mk('line',{x1:R,y1:y,x2:R-l,y2:y,stroke:'#111'},g);
    if(maj){const t=mk('text',{x:L-9,y:y+6,'font-size':16.5,'text-anchor':'end'},g);t.textContent=fmt(Math.round(v/yMaj)*yMaj);
      }
  }
  const xl=mk('text',{x:(L+R)/2,y:B+50,'font-size':16.5,'text-anchor':'middle'},g);xl.textContent=xLabel;
  
  const yx=L-56, yy=(T+B)/2;
  const yl=mk('text',{x:yx,y:yy,'font-size':16.5,'text-anchor':'middle',transform:`rotate(-90 ${yx} ${yy})`},g);yl.textContent=yLabel;
  
}

panel({name:'glon-glat-panel',L:78,T:72,R:517,B:493,x0:253.04,x1:284.86,y0:2.70,y1:-2.78,xMaj:5,xMin:1,yMaj:1,yMin:0.2,xLabel:'GLON [deg]',yLabel:'GLAT [deg]',data:glonGlat});
panel({name:'proper-motion-panel',L:612,T:72,R:1050,B:493,x0:-16.56,x1:-10.12,y0:8.05,y1:2.53,xMaj:1,xMin:0.2,yMaj:1,yMin:0.2,xLabel:'pmRA [mas/yr]',yLabel:'pmDE [mas/yr]',data:pmraPmde});
panel({name:'parallax-mag-panel',L:78,T:581,R:517,B:1001,x0:1.938,x1:2.719,y0:5.86,y1:20.76,xMaj:0.2,xMin:0.05,yMaj:2,yMin:0.5,xDec:1,xLabel:'Plx [mas]',yLabel:'G [mag]',data:plxG,
  extra:(g,sx,sy)=>{const l=mk('line',{x1:sx(2.326),y1:581,x2:sx(2.326),y2:1001,stroke:'#000','stroke-width':4.5,'stroke-dasharray':'4.5,3'},g);
    }});
panel({name:'cmd-panel',L:612,T:581,R:1050,B:1001,x0:-0.456,x1:3.80,y0:5.86,y1:20.76,xMaj:1,xMin:0.2,yMaj:2,yMin:0.5,xLabel:'BP-RP [mag]',yLabel:'G [mag]',data:bprpG});

// colorbar
(function(){
  const L=1064,R=1086,T=67,B=1000;
  const sy=v=>B-(v-PMIN)/(PMAX-PMIN)*(B-T);
  const g=mk('g',{});
  
  
  const defs=mk('defs',{},g);
  const lg=mk('linearGradient',{id:'cbg',x1:0,y1:1,x2:0,y2:0},defs);
  for(let i=0;i<=20;i++){mk('stop',{offset:i/20,'stop-color':plasma(i/20),'stop-opacity':0.82},lg);}
  mk('rect',{x:L,y:T,width:R-L,height:B-T,fill:'url(#cbg)',stroke:'#111','stroke-width':1.2},g);
  for(let v=0.4;v<=1.0001;v+=0.02){const y=sy(v);const maj=Math.abs(v*10-Math.round(v*10))<1e-6;
    mk('line',{x1:R,y1:y,x2:R-(maj?7:3.5),y2:y,stroke:'#111'},g);}
  cbTicks.forEach(v=>{const y=sy(v);const t=mk('text',{x:R+10,y:y+6,'font-size':16.5},g);t.textContent=v.toFixed(1);
    });
})();
</script>
</body></html>
